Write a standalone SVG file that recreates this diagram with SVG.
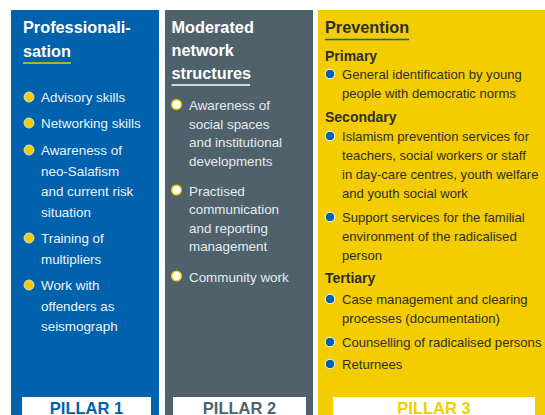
<svg xmlns="http://www.w3.org/2000/svg" width="545" height="415" viewBox="0 0 545 415">
<style>
text{font-family:"Liberation Sans",Arial,sans-serif}
.t{font-weight:bold;font-size:16.3px}
.b1{font-size:13.4px;fill:#eef3f8}
.b2{font-size:13.4px;fill:#e6ebed}
.b3{font-size:13.1px;fill:#2e2e2e}
.h3{font-weight:bold;font-size:14px;fill:#2e2e2e}
.pl{font-weight:bold;font-size:16.5px;text-anchor:middle}
.d1{fill:#f3cd00;stroke:#e8eef5;stroke-width:0.8}
.d2{fill:#ffffff;stroke:#f3cd00;stroke-width:1.4}
.d3{fill:#0061ad;stroke:#ffffff;stroke-width:1}
</style>
<rect width="545" height="415" fill="#ffffff"/>
<g id="pillar1">
<rect x="11" y="10" width="148" height="405" fill="#0061ad"/>
<text class="t" fill="#ffffff"><tspan x="23" y="33">Professionali-</tspan><tspan x="23" y="57">sation</tspan></text>
<line x1="23" y1="63" x2="71" y2="63" stroke="#f3cd00" stroke-width="1.6"/>
<circle class="d1" cx="29" cy="97" r="5"/>
<circle class="d1" cx="29" cy="123" r="5"/>
<circle class="d1" cx="29" cy="150" r="5"/>
<circle class="d1" cx="29" cy="238" r="5"/>
<circle class="d1" cx="29" cy="285" r="5"/>
<text class="b1"><tspan x="41" y="102">Advisory skills</tspan><tspan x="41" y="128">Networking skills</tspan><tspan x="41" y="155">Awareness of</tspan><tspan x="41" y="175.5">neo-Salafism</tspan><tspan x="41" y="196">and current risk</tspan><tspan x="41" y="216.5">situation</tspan><tspan x="41" y="243">Training of</tspan><tspan x="41" y="263.5">multipliers</tspan><tspan x="41" y="290">Work with</tspan><tspan x="41" y="310.5">offenders as</tspan><tspan x="41" y="331">seismograph</tspan></text>
<rect x="22" y="397" width="129" height="18" fill="#ffffff"/>
<text class="pl" x="86.5" y="413.5" fill="#0061ad">PILLAR 1</text>
</g>
<g id="pillar2">
<rect x="165" y="10" width="148" height="405" fill="#4f626c"/>
<text class="t" fill="#ffffff"><tspan x="171.5" y="32.5">Moderated</tspan><tspan x="171.5" y="55.5">network</tspan><tspan x="171.5" y="78.5">structures</tspan></text>
<line x1="171.5" y1="85" x2="250" y2="85" stroke="#ffffff" stroke-width="1.4"/>
<circle class="d2" cx="176.5" cy="104.5" r="4.8"/>
<circle class="d2" cx="176.5" cy="190" r="4.8"/>
<circle class="d2" cx="176.5" cy="276" r="4.8"/>
<text class="b2"><tspan x="189" y="110">Awareness of</tspan><tspan x="189" y="128.5">social spaces</tspan><tspan x="189" y="147">and institutional</tspan><tspan x="189" y="165.5">developments</tspan><tspan x="189" y="195.5">Practised</tspan><tspan x="189" y="214">communication</tspan><tspan x="189" y="232.5">and reporting</tspan><tspan x="189" y="251">management</tspan><tspan x="189" y="281.5">Community work</tspan></text>
<rect x="173" y="397" width="133" height="18" fill="#ffffff"/>
<text class="pl" x="239.5" y="413.5" fill="#4f626c">PILLAR 2</text>
</g>
<g id="pillar3">
<rect x="318" y="10" width="227" height="405" fill="#f3cd00"/>
<text class="t" x="325" y="33" fill="#2e2e2e">Prevention</text>
<line x1="325" y1="39.5" x2="409" y2="39.5" stroke="#0061ad" stroke-width="1.6"/>
<text class="h3" x="325" y="61">Primary</text>
<text class="h3" x="325" y="122">Secondary</text>
<text class="h3" x="325" y="283">Tertiary</text>
<circle class="d3" cx="330" cy="74" r="4.8"/>
<circle class="d3" cx="330" cy="136" r="4.8"/>
<circle class="d3" cx="330" cy="217" r="4.8"/>
<circle class="d3" cx="330" cy="299" r="4.8"/>
<circle class="d3" cx="330" cy="342" r="4.8"/>
<circle class="d3" cx="330" cy="364" r="4.8"/>
<text class="b3"><tspan x="342" y="78.5">General identification by young</tspan><tspan x="342" y="97.5">people with democratic norms</tspan><tspan x="342" y="141">Islamism prevention services for</tspan><tspan x="342" y="160">teachers, social workers or staff</tspan><tspan x="342" y="179">in day-care centres, youth welfare</tspan><tspan x="342" y="198">and youth social work</tspan><tspan x="342" y="222">Support services for the familial</tspan><tspan x="342" y="241">environment of the radicalised</tspan><tspan x="342" y="260">person</tspan><tspan x="342" y="304">Case management and clearing</tspan><tspan x="342" y="323">processes (documentation)</tspan><tspan x="342" y="347">Counselling of radicalised persons</tspan><tspan x="342" y="369">Returnees</tspan></text>
<rect x="333" y="397" width="202" height="18" fill="#ffffff"/>
<text class="pl" x="434" y="413.5" fill="#f3cd00">PILLAR 3</text>
</g>
<g id="connectors"/>
</svg>
